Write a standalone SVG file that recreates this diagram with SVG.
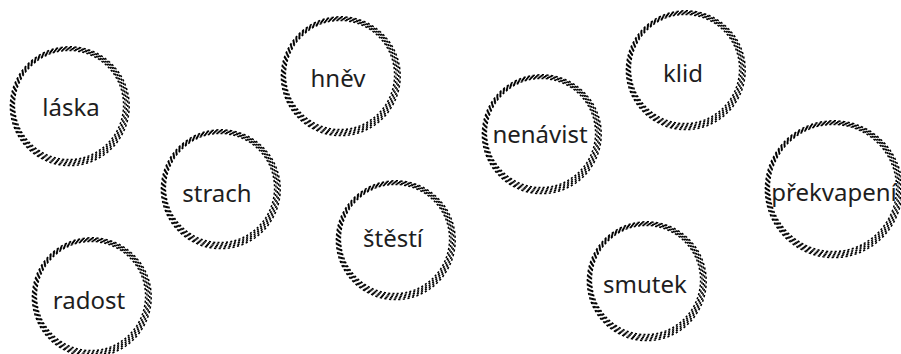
<svg xmlns="http://www.w3.org/2000/svg" xmlns:xlink="http://www.w3.org/1999/xlink" width="901" height="354" viewBox="0 0 901 354">
<style>
.r{fill:none;stroke:#000;stroke-width:1.5;stroke-dasharray:2.2 2.3}
.t{font-family:"Noto Sans","DejaVu Sans",sans-serif;font-size:24px;fill:#1e1e1e;text-anchor:middle;dominant-baseline:central}
</style>
<defs>
<g id="rope57">
<circle class="r" cx="0" cy="0" r="54.6" pathLength="360" stroke-dashoffset="4"/>
<circle class="r" cx="0.2" cy="0.3" r="55.8" pathLength="360" stroke-dashoffset="3"/>
<circle class="r" cx="0.4" cy="0.6" r="57" pathLength="360" stroke-dashoffset="2"/>
<circle class="r" cx="0.6" cy="0.9" r="58.2" pathLength="360" stroke-dashoffset="1"/>
<circle class="r" cx="0.8" cy="1.2" r="59.4" pathLength="360" stroke-dashoffset="0"/>
</g>
<g id="rope66">
<circle class="r" cx="0" cy="0" r="63.6" pathLength="414" stroke-dashoffset="4"/>
<circle class="r" cx="0.2" cy="0.3" r="64.8" pathLength="414" stroke-dashoffset="3"/>
<circle class="r" cx="0.4" cy="0.6" r="66" pathLength="414" stroke-dashoffset="2"/>
<circle class="r" cx="0.6" cy="0.9" r="67.2" pathLength="414" stroke-dashoffset="1"/>
<circle class="r" cx="0.8" cy="1.2" r="68.4" pathLength="414" stroke-dashoffset="0"/>
</g>
</defs>
<rect width="901" height="354" fill="#fff"/>
<g id="connectors"/>
<g id="laska"><use xlink:href="#rope57" href="#rope57" x="69" y="105"/><text class="t" x="71" y="106">láska</text></g>
<g id="strach"><use xlink:href="#rope57" href="#rope57" x="220" y="188"/><text class="t" x="217" y="192">strach</text></g>
<g id="radost"><use xlink:href="#rope57" href="#rope57" x="91" y="296"/><text class="t" x="89" y="299">radost</text></g>
<g id="hnev"><use xlink:href="#rope57" href="#rope57" x="340" y="75"/><text class="t" x="338" y="77">hněv</text></g>
<g id="stesti"><use xlink:href="#rope57" href="#rope57" x="395" y="239"/><text class="t" x="393" y="237">štěstí</text></g>
<g id="nenavist"><use xlink:href="#rope57" href="#rope57" x="541" y="133"/><text class="t" x="540" y="133">nenávist</text></g>
<g id="klid"><use xlink:href="#rope57" href="#rope57" x="685" y="69"/><text class="t" x="683" y="72">klid</text></g>
<g id="smutek"><use xlink:href="#rope57" href="#rope57" x="646" y="280"/><text class="t" x="645" y="283">smutek</text></g>
<g id="prekvapeni"><use xlink:href="#rope66" href="#rope66" x="833" y="188"/><text class="t" x="834" y="191">překvapení</text></g>
</svg>
